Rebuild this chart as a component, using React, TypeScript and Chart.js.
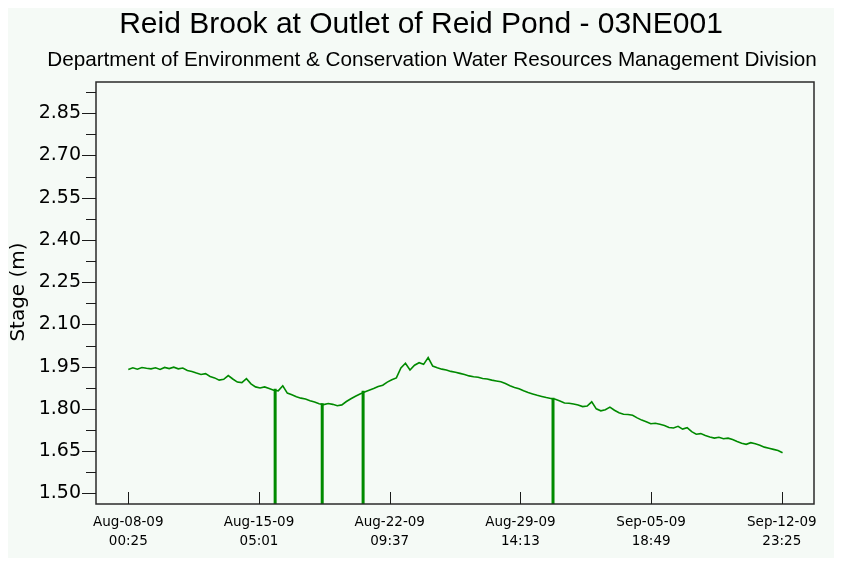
import React, { useEffect, useRef } from "react";
import { Chart, registerables } from "chart.js";

Chart.register(...registerables);

const titleText = "Reid Brook at Outlet of Reid Pond - 03NE001";
const subtitleText = "Department of Environment & Conservation Water Resources Management Division";
const yAxisTitle = "Stage (m)";

// x axis: days since Aug-08-09 00:25
const xTickDays = [0, 7.1917, 14.3833, 21.575, 28.7667, 35.9583];
const xTickDates = ["Aug-08-09", "Aug-15-09", "Aug-22-09", "Aug-29-09", "Sep-05-09", "Sep-12-09"];
const xTickTimes = ["00:25", "05:01", "09:37", "14:13", "18:49", "23:25"];

const yTickValues = [1.5, 1.65, 1.8, 1.95, 2.1, 2.25, 2.4, 2.55, 2.7, 2.85];
const yMinorTickValues = [1.575, 1.725, 1.875, 2.025, 2.175, 2.325, 2.475, 2.625, 2.775, 2.925];

// stage readings every 6 hours starting Aug-08-09 00:25
const stepDays = 0.25;
const stageValues = [
  1.940, 1.946, 1.941, 1.947, 1.944, 1.942, 1.946, 1.940, 1.947, 1.943,
  1.948, 1.942, 1.945, 1.936, 1.933, 1.927, 1.922, 1.925, 1.915, 1.910,
  1.902, 1.905, 1.918, 1.906, 1.895, 1.893, 1.907, 1.889, 1.878, 1.874,
  1.878, 1.872, 1.866, 1.864, 1.882, 1.856, 1.850, 1.843, 1.838, 1.835,
  1.829, 1.824, 1.818, 1.815, 1.819, 1.816, 1.811, 1.814, 1.826, 1.836,
  1.845, 1.853, 1.860, 1.866, 1.872, 1.879, 1.884, 1.895, 1.903, 1.910,
  1.945, 1.962, 1.938, 1.955, 1.964, 1.958, 1.982, 1.952, 1.946, 1.941,
  1.938, 1.933, 1.930, 1.926, 1.922, 1.917, 1.914, 1.912, 1.908, 1.906,
  1.902, 1.899, 1.896, 1.890, 1.882, 1.876, 1.871, 1.864, 1.858, 1.853,
  1.848, 1.844, 1.840, 1.837, 1.834, 1.828, 1.821, 1.820, 1.817, 1.814,
  1.808, 1.810, 1.825, 1.800, 1.793, 1.797, 1.806, 1.795, 1.786, 1.781,
  1.780, 1.777, 1.768, 1.760, 1.754, 1.747, 1.749, 1.745, 1.741, 1.734,
  1.732, 1.738, 1.728, 1.733, 1.719, 1.710, 1.712, 1.705, 1.700, 1.696,
  1.699, 1.694, 1.696, 1.691, 1.684, 1.678, 1.674, 1.680, 1.676, 1.671,
  1.664, 1.660, 1.656, 1.652, 1.644,
];

// sensor drop-outs: reading at the top of the drop, falling to zero
const spikeDays = [8.08, 10.67, 12.92, 23.37];
const spikeTops = [1.871, 1.820, 1.864, 1.839];
const spikeBottom = 0;

const BG = "#f5faf6";
const GREEN = "#008a00";
const FONT = "'Liberation Sans', Arial, Helvetica, sans-serif";
const TICK_FONT = "'DejaVu Sans', Verdana, sans-serif";

const decorPlugin = {
  id: "decor",
  beforeDraw(chart: any) {
    const ctx = chart.ctx;
    ctx.save();
    ctx.fillStyle = BG;
    ctx.fillRect(0, 0, chart.width, chart.height);
    ctx.restore();
  },
  afterDraw(chart: any) {
    const { ctx, chartArea: a, scales } = chart;
    ctx.save();
    ctx.strokeStyle = "#2a2a2a";
    ctx.lineWidth = 1.5;
    ctx.strokeRect(a.left, a.top, a.right - a.left, a.bottom - a.top);

    ctx.lineWidth = 1;
    ctx.strokeStyle = "#1a1a1a";
    ctx.beginPath();
    yTickValues.forEach((v) => {
      const y = Math.round(scales.y.getPixelForValue(v)) + 0.5;
      ctx.moveTo(a.left - 14, y);
      ctx.lineTo(a.left, y);
    });
    yMinorTickValues.forEach((v) => {
      const y = Math.round(scales.y.getPixelForValue(v)) + 0.5;
      if (y > a.top) {
        ctx.moveTo(a.left - 10, y);
        ctx.lineTo(a.left, y);
      }
    });
    xTickDays.forEach((v) => {
      const x = Math.round(scales.x.getPixelForValue(v)) + 0.5;
      ctx.moveTo(x, a.bottom);
      ctx.lineTo(x, a.bottom - 12);
    });
    ctx.stroke();

    ctx.fillStyle = "#000";
    ctx.textAlign = "center";
    ctx.textBaseline = "alphabetic";
    ctx.font = `30px ${FONT}`;
    ctx.fillText(titleText, chart.width / 2, 25);
    ctx.font = `20.7px ${FONT}`;
    ctx.fillText(subtitleText, chart.width / 2 + 11, 58);

    ctx.translate(11, (a.top + a.bottom) / 2 - 1);
    ctx.rotate(-Math.PI / 2);
    ctx.textBaseline = "middle";
    ctx.font = `20px ${TICK_FONT}`;
    ctx.fillText(yAxisTitle, 0, 0);
    ctx.restore();
  },
};

export default function App() {
  const ref = useRef<HTMLCanvasElement | null>(null);

  useEffect(() => {
    if (!ref.current) return;
    const points = stageValues.map((v, i) => ({ x: i * stepDays, y: v }));
    const spikePoints: any[] = [];
    spikeDays.forEach((d, i) => {
      spikePoints.push({ x: d, y: spikeTops[i] });
      spikePoints.push({ x: d, y: spikeBottom });
      spikePoints.push({ x: d, y: null });
    });

    const chart = new Chart(ref.current, {
      type: "line",
      data: {
        datasets: [
          {
            data: points,
            borderColor: GREEN,
            borderWidth: 1.6,
            pointRadius: 0,
            tension: 0,
            fill: false,
          },
          {
            data: spikePoints,
            borderColor: GREEN,
            borderWidth: 3,
            pointRadius: 0,
            tension: 0,
            fill: false,
            spanGaps: false,
          },
        ],
      },
      options: {
        animation: false,
        responsive: false,
        devicePixelRatio: 1,
        parsing: false as any,
        layout: { padding: { top: 74, right: 20, left: 0, bottom: 0 } },
        plugins: { legend: { display: false }, tooltip: { enabled: false }, title: { display: false } },
        scales: {
          x: {
            type: "linear",
            min: -1.777,
            max: 37.73,
            grid: { display: false, drawTicks: false },
            border: { display: false },
            afterBuildTicks: (s: any) => {
              s.ticks = xTickDays.map((v) => ({ value: v }));
            },
            afterFit: (s: any) => {
              s.height = 54;
              s.paddingLeft = 0;
              s.paddingRight = 0;
            },
            ticks: {
              autoSkip: false,
              maxRotation: 0,
              minRotation: 0,
              padding: 9,
              color: "#000",
              font: { family: TICK_FONT, size: 13.5, lineHeight: 1.4 },
              callback: (_v: any, i: number) => [xTickDates[i], xTickTimes[i]],
            },
          },
          y: {
            type: "linear",
            min: 1.462,
            max: 2.961,
            grid: { display: false, drawTicks: false },
            border: { display: false },
            afterBuildTicks: (s: any) => {
              s.ticks = yTickValues.map((v) => ({ value: v }));
            },
            afterFit: (s: any) => {
              s.width = 88;
              s.paddingTop = 0;
              s.paddingBottom = 0;
            },
            ticks: {
              padding: 15,
              color: "#000",
              font: { family: TICK_FONT, size: 19 },
              callback: (v: any) => Number(v).toFixed(2),
            },
          },
        },
      },
      plugins: [decorPlugin],
    });
    return () => chart.destroy();
  }, []);

  return (
    <div style={{ width: 826, height: 550, background: BG }}>
      <canvas ref={ref} width={826} height={550} style={{ display: "block" }} />
    </div>
  );
}
